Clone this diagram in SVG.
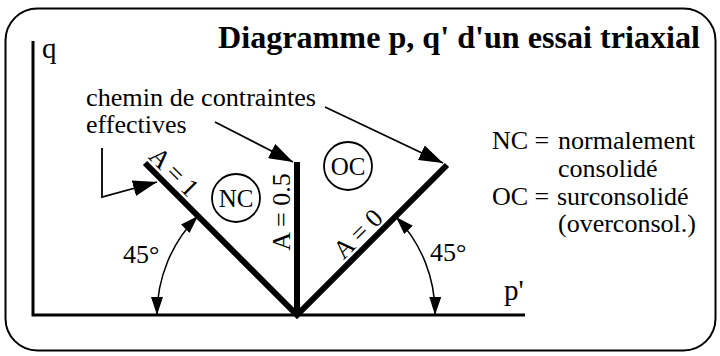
<svg xmlns="http://www.w3.org/2000/svg" width="720" height="356" viewBox="0 0 720 356" font-family="'Liberation Serif', 'Times New Roman', Times, serif">
<style>
.t { font-size: 26px; }
.title { font-size: 32px; font-weight: bold; }
.axis { stroke: #000; stroke-width: 3; fill: none; }
.path { stroke: #000; stroke-width: 6; fill: none; }
.thin { stroke: #000; stroke-width: 1.8; fill: none; }
.arc { stroke: #000; stroke-width: 1.5; fill: none; }
.circ { stroke: #000; stroke-width: 1.8; fill: #fff; }
</style>
<defs>
<marker id="arrow" markerWidth="24" markerHeight="16" refX="24" refY="8" orient="auto" markerUnits="userSpaceOnUse">
<path d="M0,0 L24,8 L0,16 z" fill="#000"/>
</marker>
<marker id="arrowS" markerWidth="18" markerHeight="12" refX="18" refY="6" orient="auto-start-reverse" markerUnits="userSpaceOnUse">
<path d="M0,0 L18,6 L0,12 z" fill="#000"/>
</marker>
</defs>
<rect id="frame" x="5.5" y="8.5" width="710" height="342" rx="32" ry="32" fill="#fff" stroke="#000" stroke-width="2"/>
<g id="title"><text class="title" x="218" y="48" textLength="482" lengthAdjust="spacingAndGlyphs">Diagramme p, q' d'un essai triaxial</text></g>
<g id="axes">
<path class="axis" d="M33,41 V315 H525"/>
<text x="42" y="58" font-size="29">q</text>
<text x="504" y="300" font-size="29">p'</text>
</g>
<g id="stress-paths">
<path class="path" d="M145,163 L297,315 L447,165"/>
<path class="path" d="M297,162 V315"/>
</g>
<g id="path-labels">
<text class="t" text-anchor="middle" transform="translate(168,178) rotate(45)">A = 1</text>
<text class="t" text-anchor="middle" transform="translate(290,212) rotate(-90)">A = 0.5</text>
<text class="t" text-anchor="middle" transform="translate(364,240) rotate(-45)">A = 0</text>
</g>
<g id="node-NC">
<circle class="circ" cx="236" cy="198" r="24"/>
<text x="236" y="207" text-anchor="middle" font-size="25">NC</text>
</g>
<g id="node-OC">
<circle class="circ" cx="348" cy="166" r="24"/>
<text x="348" y="175" text-anchor="middle" font-size="25">OC</text>
</g>
<g id="caption">
<text class="t" x="86" y="106" textLength="230" lengthAdjust="spacingAndGlyphs">chemin de contraintes</text>
<text class="t" x="86" y="133">effectives</text>
</g>
<g id="legend">
<text class="t" x="492" y="149">NC =</text>
<text class="t" x="558" y="149">normalement</text>
<text class="t" x="558" y="177">consolidé</text>
<text class="t" x="492" y="205">OC =</text>
<text class="t" x="557" y="205">surconsolidé</text>
<text class="t" x="558" y="232">(overconsol.)</text>
</g>
<g id="angles">
<path class="arc" d="M157,315 A140,140 0 0 1 198,216" marker-start="url(#arrowS)" marker-end="url(#arrowS)"/>
<path class="arc" d="M435,315 A138,138 0 0 0 396,217" marker-start="url(#arrowS)" marker-end="url(#arrowS)"/>
<text class="t" x="123" y="263">45°</text>
<text class="t" x="430" y="261">45°</text>
</g>
<g id="connectors">
<path class="thin" d="M215,122 L293,162" marker-end="url(#arrow)"/>
<path class="thin" d="M325,107 L443,163" marker-end="url(#arrow)"/>
<path class="thin" d="M102,148 V197 L157,182" marker-end="url(#arrow)"/>
</g>
</svg>
